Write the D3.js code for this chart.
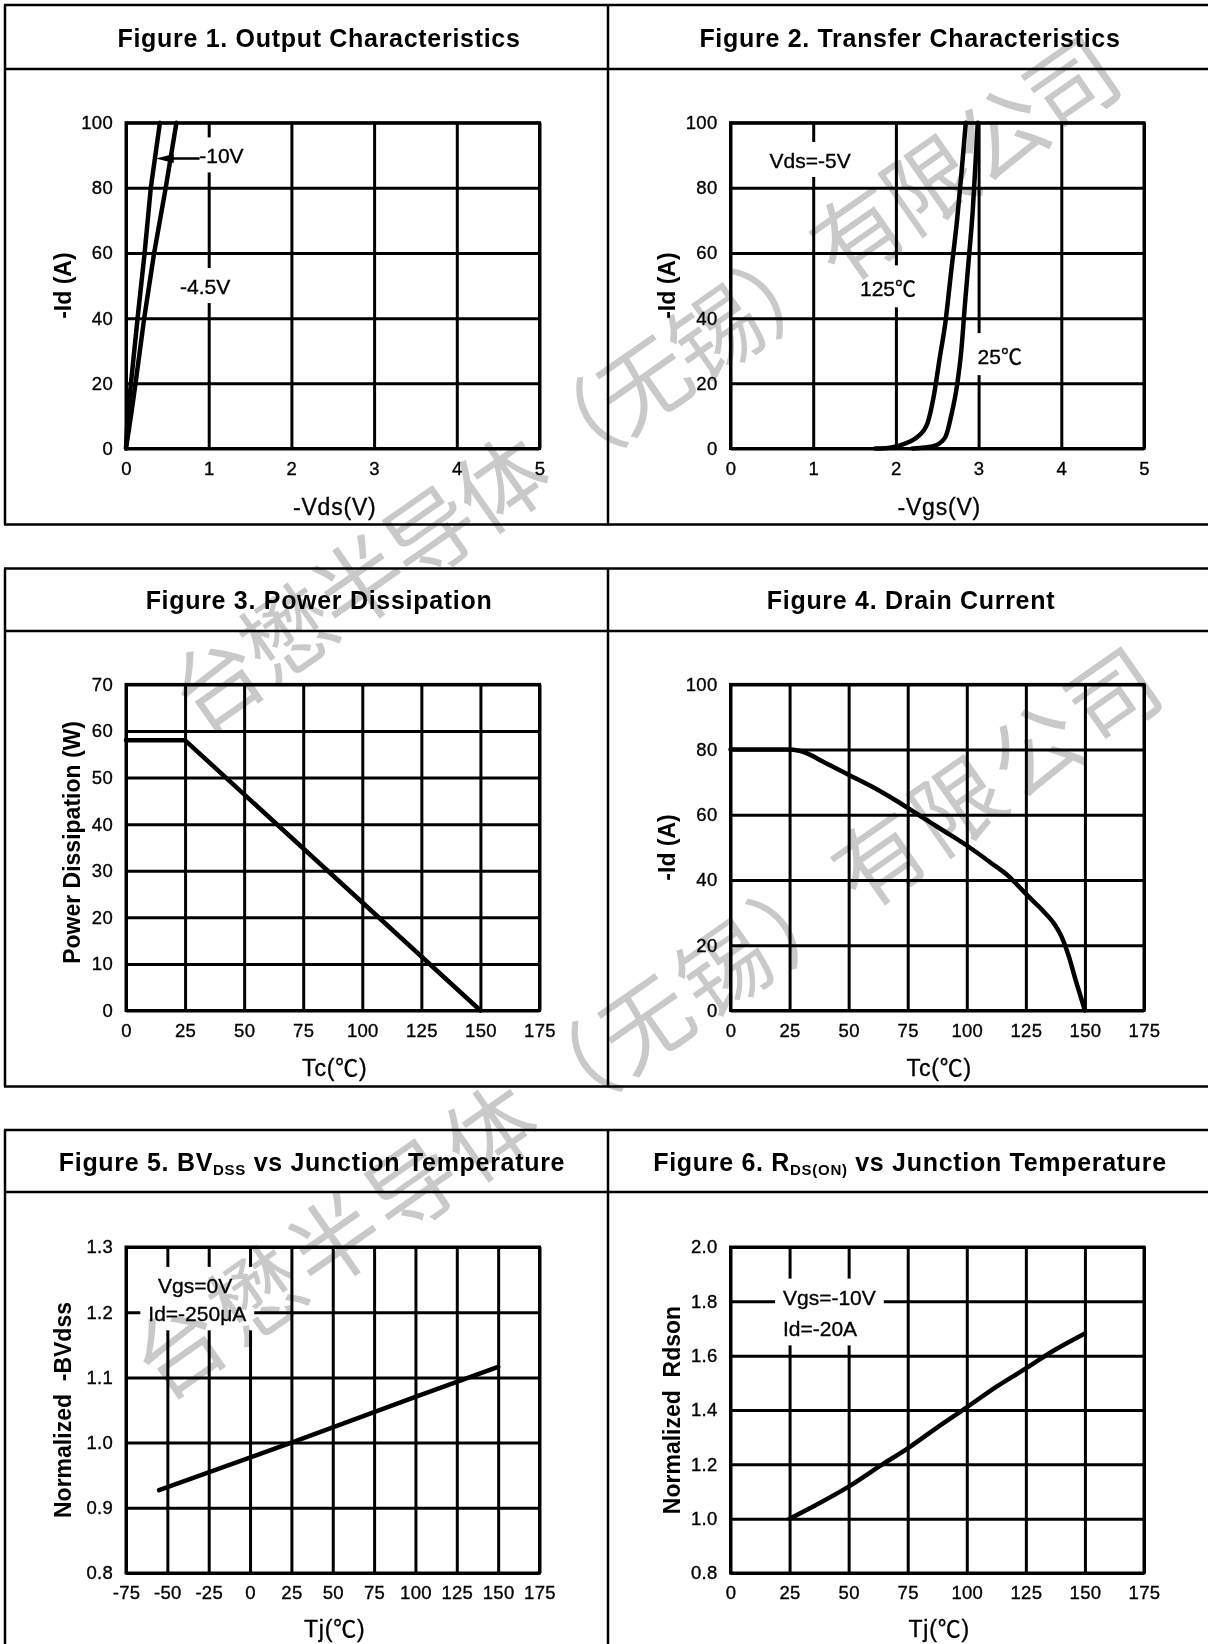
<!DOCTYPE html>
<html><head><meta charset="utf-8">
<script src="https://cdn.jsdelivr.net/npm/d3@7"></script>
<style>
html,body{margin:0;padding:0;background:#fff;}
svg{display:block;}
</style></head><body>
<script>
// ================= DATA =================
// Figure 1. Output Characteristics
const fig1XTicks = [0,1,2,3,4,5];
const fig1YTicks = [0,20,40,60,80,100];
const fig1Vds_10V = [0,0.02,0.06,0.14,0.225,0.30,0.41];
const fig1Id_10V  = [0,10,20,40,60,80,100];
const fig1Vds_45V = [0,0.06,0.115,0.22,0.34,0.48,0.61];
const fig1Id_45V  = [0,10,20,40,60,80,100];
const fig1Labels = [
  {text:"-10V",  x:0.886, y:87.5, group:"a"},
  {text:"-4.5V", x:0.653, y:47.4, group:"b"}
];
const fig1Arrow = {x0:0.36, x1:0.89, y:89};

// Figure 2. Transfer Characteristics
const fig2XTicks = [0,1,2,3,4,5];
const fig2YTicks = [0,20,40,60,80,100];
const fig2Vgs_125 = [1.75,1.9,2.0,2.1,2.23,2.37,2.46,2.53,2.60,2.67,2.74,2.79,2.845];
const fig2Id_125  = [0,0.15,0.6,1.4,3,7,16.4,27.8,39,54.7,70.2,83.7,100];
const fig2Vgs_25  = [2.2,2.35,2.485,2.6,2.67,2.74,2.79,2.835,2.88,2.93,2.965,2.99];
const fig2Id_25   = [0,0.3,1,3.6,10.2,19.5,29.8,44.3,57.8,73.3,88.8,100];
const fig2Labels = [
  {text:"Vds=-5V", x:0.473, y:86.1, group:"a"},
  {text:"125\u2103",  x:1.566, y:46.7, group:"b"},
  {text:"25\u2103",   x:2.988, y:25.9, group:"c"}
];

// Figure 3. Power Dissipation
const fig3XTicks = [0,25,50,75,100,125,150,175];
const fig3YTicks = [0,10,20,30,40,50,60,70];
const fig3Tc = [0,25,150];
const fig3Pd = [58,58,0];

// Figure 4. Drain Current
const fig4XTicks = [0,25,50,75,100,125,150,175];
const fig4YTicks = [0,20,40,60,80,100];
const fig4Tc = [0,25,30,40,50,60,70,80,90,100,110,118,123,128,133,137,140,143,146,150];
const fig4Id = [80,80,79.5,76,72.3,68.6,64.4,59.8,55.2,50.6,45.4,41,37.3,33.6,30,26.6,22.8,17,9.5,0];

// Figure 5. BVdss vs Junction Temperature
const fig5XTicks = [-75,-50,-25,0,25,50,75,100,125,150,175];
const fig5YTicks = [0.8,0.9,1.0,1.1,1.2,1.3];
const fig5Tj = [-55,25,100,150];
const fig5BV = [0.927,1.0,1.07,1.116];
const fig5Labels = [
  {text:"Vgs=0V",      x:-55.6, y:1.2296, group:"a"},
  {text:"Id=-250\u03bcA", x:-61.5, y:1.186,  group:"a"}
];

// Figure 6. Rds(on) vs Junction Temperature
const fig6XTicks = [0,25,50,75,100,125,150,175];
const fig6YTicks = [0.8,1.0,1.2,1.4,1.6,1.8,2.0];
const fig6Tj = [25,35,50,64,75,88,100,112.6,125,137,150];
const fig6R  = [1.0,1.045,1.118,1.198,1.259,1.339,1.41,1.486,1.553,1.62,1.682];
const fig6Labels = [
  {text:"Vgs=-10V", x:22.2, y:1.788, group:"a"},
  {text:"Id=-20A",  x:22.2, y:1.671, group:"a"}
];

const watermarkText = "\u53f0\u61cb\u534a\u5bfc\u4f53\uff08\u65e0\u9521\uff09\u6709\u9650\u516c\u53f8";

// ================= DRAWING =================
const W = 1208, H = 1644;
const FONT = '"Liberation Sans", Arial, Helvetica, sans-serif';
const CJK = '"Noto Sans CJK SC", sans-serif';
const svg = d3.select("body").append("svg").attr("width", W).attr("height", H)
  .attr("font-family", FONT);

// put text into an element, rendering the degree-Celsius sign with the CJK font
function setText(sel, str) {
  str.split(/(\u2103)/).filter(s => s.length).forEach(part => {
    const ts = sel.append("tspan").text(part);
    if (part === "\u2103") ts.attr("font-family", CJK);
  });
  return sel;
}

// Frames
const rows = [
  {top:5,     div:69,   bottom:524.5},
  {top:568.5, div:631,  bottom:1086.5},
  {top:1130,  div:1192, bottom:1646}
];
const frame = svg.append("g").attr("stroke","#000").attr("stroke-width",2.5);
rows.forEach(r => {
  [r.top, r.div, r.bottom].forEach(yy => {
    if (yy < H) frame.append("line").attr("x1",4).attr("x2",W).attr("y1",yy).attr("y2",yy);
  });
  [5, 608].forEach(xx => frame.append("line").attr("x1",xx).attr("x2",xx).attr("y1",r.top).attr("y2",Math.min(r.bottom,H)));
});

const zip = (a,b) => a.map((v,i)=>[v,b[i]]);
const TXT_STROKE = 0.35;

function panel(p) {
  const g = svg.append("g");
  const x = d3.scaleLinear().domain(p.xDomain).range([p.left, p.right]);
  const y = d3.scaleLinear().domain(p.yDomain).range([p.bottom, p.top]);
  const h = p.bottom - p.top, w = p.right - p.left;

  // Title
  const t = g.append("text").attr("x", p.titleX).attr("y", p.titleY)
    .attr("text-anchor","middle").attr("font-weight","bold").attr("font-size",25)
    .attr("letter-spacing","0.7px").attr("fill","#000");
  p.title.forEach(part => {
    const ts = t.append("tspan").text(part.t);
    if (part.sub) ts.attr("font-size",15).attr("dy",4);
    if (part.after) ts.attr("dy",-4);
  });

  // X axis + vertical grid
  const xa = g.append("g").attr("transform",`translate(0,${p.bottom})`)
    .call(d3.axisBottom(x).tickValues(p.xTicks).tickSize(-h).tickPadding(13).tickFormat(p.xFmt));
  xa.select(".domain").remove();
  xa.attr("font-family", FONT).attr("font-size", 18.5);
  xa.selectAll(".tick line").attr("stroke","#000").attr("stroke-width",3);
  xa.selectAll(".tick text").attr("fill","#000").attr("letter-spacing","0.3px")
    .attr("stroke","#000").attr("stroke-width",TXT_STROKE);

  // Y axis + horizontal grid
  const ya = g.append("g").attr("transform",`translate(${p.left},0)`)
    .call(d3.axisLeft(y).tickValues(p.yTicks).tickSize(-w).tickPadding(13).tickFormat(p.yFmt));
  ya.select(".domain").remove();
  ya.attr("font-family", FONT).attr("font-size", 18.5);
  ya.selectAll(".tick line").attr("stroke","#000").attr("stroke-width",3);
  ya.selectAll(".tick text").attr("fill","#000").attr("letter-spacing","0.3px")
    .attr("stroke","#000").attr("stroke-width",TXT_STROKE);

  // Border
  g.append("rect").attr("x",p.left).attr("y",p.top).attr("width",w).attr("height",h)
    .attr("fill","none").attr("stroke","#000").attr("stroke-width",3);

  // Axis titles
  setText(g.append("text").attr("x",(p.left+p.right)/2 + 2).attr("y",p.bottom + p.xTitleDy)
    .attr("text-anchor","middle").attr("font-size",23).attr("letter-spacing","0.8px")
    .attr("fill","#000").attr("stroke","#000").attr("stroke-width",TXT_STROKE), p.xTitle);
  g.append("text")
    .attr("transform",`translate(${p.left + p.yTitleDx},${(p.top+p.bottom)/2 + (p.yTitleDy||0)}) rotate(-90)`)
    .attr("text-anchor","middle").attr("font-size",23).attr("font-weight","bold")
    .attr("fill","#000").text(p.yTitle);

  // Labels with white backgrounds
  if (p.labels) {
    const bgLayer = g.append("g");
    const txtLayer = g.append("g");
    const boxes = {};
    p.labels.forEach(l => {
      const tx = setText(txtLayer.append("text").attr("x", x(l.x)).attr("y", y(l.y))
        .attr("font-size",21).attr("fill","#000").attr("stroke","#000").attr("stroke-width",TXT_STROKE), l.text);
      const bb = tx.node().getBBox();
      const b = boxes[l.group];
      if (!b) boxes[l.group] = {x0:bb.x, y0:bb.y, x1:bb.x+bb.width, y1:bb.y+bb.height};
      else { b.x0=Math.min(b.x0,bb.x); b.y0=Math.min(b.y0,bb.y); b.x1=Math.max(b.x1,bb.x+bb.width); b.y1=Math.max(b.y1,bb.y+bb.height); }
    });
    Object.values(boxes).forEach(b => {
      bgLayer.append("rect").attr("x",b.x0-8).attr("y",b.y0-7).attr("width",b.x1-b.x0+16)
        .attr("height",b.y1-b.y0+12).attr("fill","#fff");
    });
  }

  // Curves
  const line = d3.line().x(d=>x(d[0])).y(d=>y(d[1])).curve(p.curve || d3.curveLinear);
  p.series.forEach(s => {
    g.append("path").datum(s).attr("d", line).attr("fill","none").attr("stroke","#000")
      .attr("stroke-width",4.5).attr("stroke-linejoin","round").attr("stroke-linecap","round");
  });

  if (p.arrow) {
    const a = p.arrow;
    const ax = x(a.x0), ay = y(a.y);
    g.append("line").attr("x1",ax+10).attr("x2",x(a.x1)).attr("y1",ay).attr("y2",ay)
      .attr("stroke","#000").attr("stroke-width",2.5);
    g.append("path").attr("d",`M${ax},${ay}L${ax+18},${ay-4.5}L${ax+18},${ay+4.5}Z`).attr("fill","#000");
  }
  return {x,y};
}

const loc = d3.formatLocale({decimal:".", thousands:",", grouping:[3], currency:["$",""], minus:"-"});
const fmtInt = loc.format("d");
const fmt1 = loc.format(".1f");
const L = {left:126, right:539.5}, R = {left:730.5, right:1144};
const R1 = {top:122.7, bottom:448.5}, R2 = {top:684.4, bottom:1010.5}, R3 = {top:1247, bottom:1573};

panel({...L, ...R1, xDomain:[0,5], yDomain:[0,100], xTicks:fig1XTicks, yTicks:fig1YTicks,
  xFmt:fmtInt, yFmt:fmtInt, title:[{t:"Figure 1. Output Characteristics"}], titleX:319, titleY:46.7,
  xTitle:"-Vds(V)", xTitleDy:66, yTitle:"-Id (A)", yTitleDx:-55,
  labels:fig1Labels, arrow:fig1Arrow,
  series:[zip(fig1Vds_10V, fig1Id_10V), zip(fig1Vds_45V, fig1Id_45V)]});

panel({...R, ...R1, xDomain:[0,5], yDomain:[0,100], xTicks:fig2XTicks, yTicks:fig2YTicks,
  xFmt:fmtInt, yFmt:fmtInt, title:[{t:"Figure 2. Transfer Characteristics"}], titleX:910, titleY:46.7,
  xTitle:"-Vgs(V)", xTitleDy:66, yTitle:"-Id (A)", yTitleDx:-55.5,
  labels:fig2Labels, curve:d3.curveMonotoneX,
  series:[zip(fig2Vgs_125, fig2Id_125), zip(fig2Vgs_25, fig2Id_25)]});

panel({...L, ...R2, xDomain:[0,175], yDomain:[0,70], xTicks:fig3XTicks, yTicks:fig3YTicks,
  xFmt:fmtInt, yFmt:fmtInt, title:[{t:"Figure 3. Power Dissipation"}], titleX:319, titleY:609,
  xTitle:"Tc(\u2103)", xTitleDy:65, yTitle:"Power Dissipation (W)", yTitleDx:-46.5, yTitleDy:-5,
  series:[zip(fig3Tc, fig3Pd)]});

panel({...R, ...R2, xDomain:[0,175], yDomain:[0,100], xTicks:fig4XTicks, yTicks:fig4YTicks,
  xFmt:fmtInt, yFmt:fmtInt, title:[{t:"Figure 4. Drain Current"}], titleX:911, titleY:609,
  xTitle:"Tc(\u2103)", xTitleDy:65, yTitle:"-Id (A)", yTitleDx:-55.5,
  curve:d3.curveMonotoneX,
  series:[zip(fig4Tc, fig4Id)]});

panel({...L, ...R3, xDomain:[-75,175], yDomain:[0.8,1.3], xTicks:fig5XTicks, yTicks:fig5YTicks,
  xFmt:fmtInt, yFmt:fmt1,
  title:[{t:"Figure 5. BV"},{t:"DSS",sub:true},{t:" vs Junction Temperature",after:true}], titleX:312, titleY:1171,
  xTitle:"Tj(\u2103)", xTitleDy:64, yTitle:"Normalized\u00a0\u00a0-BVdss", yTitleDx:-55,
  labels:fig5Labels,
  series:[zip(fig5Tj, fig5BV)]});

panel({...R, ...R3, xDomain:[0,175], yDomain:[0.8,2.0], xTicks:fig6XTicks, yTicks:fig6YTicks,
  xFmt:fmtInt, yFmt:fmt1,
  title:[{t:"Figure 6. R"},{t:"DS(ON)",sub:true},{t:" vs Junction Temperature",after:true}], titleX:910, titleY:1171,
  xTitle:"Tj(\u2103)", xTitleDy:64, yTitle:"Normalized\u00a0\u00a0Rdson", yTitleDx:-51,
  labels:fig6Labels, curve:d3.curveMonotoneX,
  series:[zip(fig6Tj, fig6R)]});

// Watermark
const wm = svg.append("g").style("mix-blend-mode","multiply");
[{cx:640, cy:380, ls:-3}, {cx:645, cy:1017, ls:5}].forEach(m => {
  wm.append("text").attr("transform",`translate(${m.cx},${m.cy}) rotate(-35)`)
    .attr("text-anchor","middle").attr("dominant-baseline","central")
    .attr("font-family",CJK).attr("font-size",90)
    .attr("letter-spacing", m.ls + "px")
    .attr("fill","#c9c9c9").style("mix-blend-mode","multiply").text(watermarkText);
});
</script>
</body></html>
